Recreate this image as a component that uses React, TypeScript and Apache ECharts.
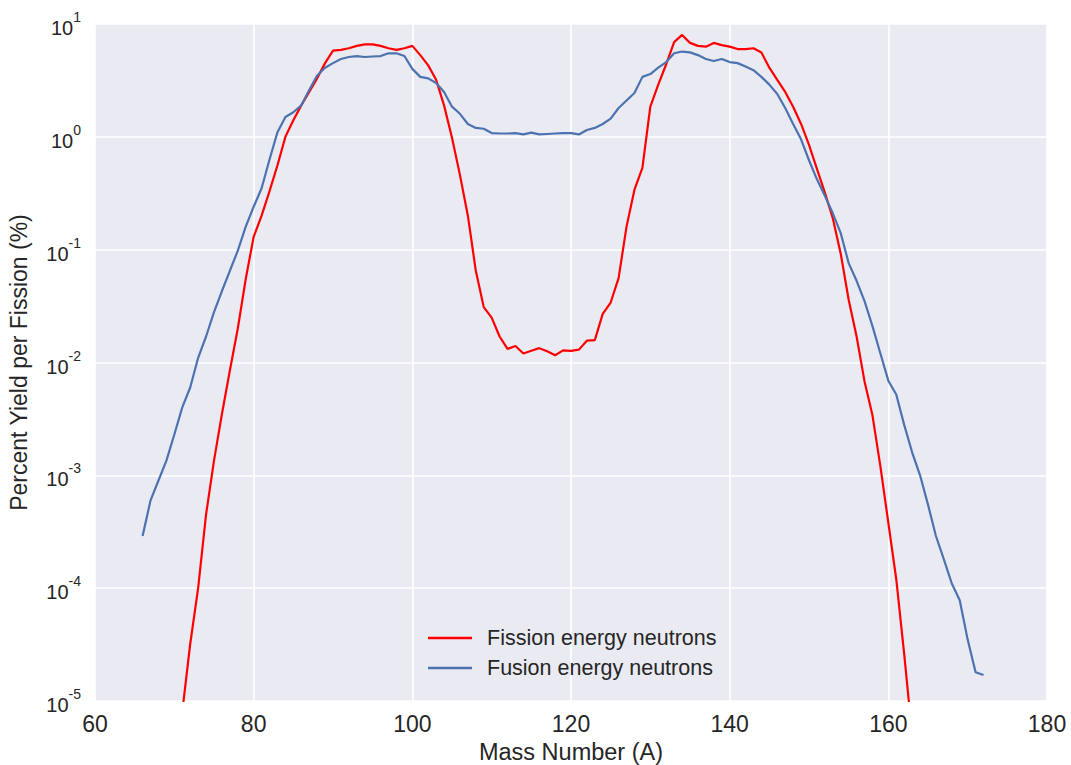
import React, { useEffect, useRef } from "react";
import * as echarts from "echarts";

const fissionMass = [71, 72, 73, 74, 75, 76, 77, 78, 79, 80, 81, 82, 83, 84, 85, 86, 87, 88, 89, 90, 91, 92, 93, 94, 95, 96, 97, 98, 99, 100, 101, 102, 103, 104, 105, 106, 107, 108, 109, 110, 111, 112, 113, 114, 115, 116, 117, 118, 119, 120, 121, 122, 123, 124, 125, 126, 127, 128, 129, 130, 131, 132, 133, 134, 135, 136, 137, 138, 139, 140, 141, 142, 143, 144, 145, 146, 147, 148, 149, 150, 151, 152, 153, 154, 155, 156, 157, 158, 159, 160, 161, 162, 163];
const fissionYield = [8e-6, 3.2e-5, 1.0e-4, 4.5e-4, 1.35e-3, 3.5e-3, 8.5e-3, 0.02, 0.055, 0.13, 0.2, 0.33, 0.56, 1.0, 1.4, 1.9, 2.5, 3.3, 4.5, 5.8, 5.9, 6.1, 6.4, 6.6, 6.6, 6.4, 6.1, 5.9, 6.1, 6.4, 5.3, 4.3, 3.2, 1.9, 0.98, 0.46, 0.2, 0.065, 0.031, 0.025, 0.017, 0.0132, 0.014, 0.012, 0.0127, 0.0134, 0.0126, 0.0116, 0.0128, 0.0127, 0.013, 0.0156, 0.0158, 0.027, 0.034, 0.056, 0.16, 0.34, 0.53, 1.85, 2.9, 4.4, 6.9, 8.0, 6.8, 6.4, 6.3, 6.8, 6.5, 6.3, 6.0, 6.0, 6.1, 5.6, 4.1, 3.2, 2.5, 1.85, 1.3, 0.85, 0.52, 0.32, 0.19, 0.092, 0.036, 0.017, 0.0068, 0.0034, 0.0012, 3.8e-4, 1.2e-4, 2.6e-5, 5e-6];

const fusionMass = [66, 67, 68, 69, 70, 71, 72, 73, 74, 75, 76, 77, 78, 79, 80, 81, 82, 83, 84, 85, 86, 87, 88, 89, 90, 91, 92, 93, 94, 95, 96, 97, 98, 99, 100, 101, 102, 103, 104, 105, 106, 107, 108, 109, 110, 111, 112, 113, 114, 115, 116, 117, 118, 119, 120, 121, 122, 123, 124, 125, 126, 127, 128, 129, 130, 131, 132, 133, 134, 135, 136, 137, 138, 139, 140, 141, 142, 143, 144, 145, 146, 147, 148, 149, 150, 151, 152, 153, 154, 155, 156, 157, 158, 159, 160, 161, 162, 163, 164, 165, 166, 167, 168, 169, 170, 171, 172];
const fusionYield = [2.9e-4, 6e-4, 9e-4, 1.35e-3, 2.3e-3, 4.0e-3, 6e-3, 0.011, 0.017, 0.028, 0.043, 0.065, 0.098, 0.16, 0.24, 0.35, 0.63, 1.1, 1.5, 1.65, 1.9, 2.6, 3.5, 4.1, 4.5, 4.9, 5.1, 5.2, 5.1, 5.15, 5.2, 5.5, 5.5, 5.2, 4.0, 3.4, 3.3, 3.0, 2.5, 1.85, 1.6, 1.3, 1.2, 1.18, 1.08, 1.07, 1.07, 1.08, 1.05, 1.09, 1.05, 1.06, 1.07, 1.08, 1.08, 1.05, 1.15, 1.2, 1.3, 1.45, 1.8, 2.1, 2.45, 3.4, 3.6, 4.1, 4.6, 5.5, 5.7, 5.6, 5.3, 4.9, 4.7, 4.9, 4.6, 4.5, 4.2, 3.9, 3.4, 2.9, 2.4, 1.8, 1.3, 0.95, 0.62, 0.42, 0.3, 0.21, 0.14, 0.076, 0.053, 0.035, 0.021, 0.012, 0.0069, 0.0052, 0.0028, 0.0016, 1.0e-3, 5.5e-4, 2.9e-4, 1.8e-4, 1.1e-4, 7.8e-5, 3.5e-5, 1.8e-5, 1.7e-5];

const seriesNames = ["Fission energy neutrons", "Fusion energy neutrons"];
const seriesColors = ["#ff0000", "#4c72b0"];
const xTitle = "Mass Number (A)";
const yTitle = "Percent Yield per Fission (%)";

const FONT = "'Liberation Sans', Arial, sans-serif";
const TEXT = "#262626";

export default function App() {
  const ref = useRef<HTMLDivElement>(null);
  useEffect(() => {
    if (!ref.current) return;
    const chart = echarts.init(ref.current, undefined, { renderer: "svg" });
    const pair = (xs: number[], ys: number[]) => xs.map((x, i) => [x, ys[i]]);
    chart.setOption({
      animation: false,
      backgroundColor: "#ffffff",
      textStyle: { fontFamily: FONT, color: TEXT },
      grid: {
        left: 95,
        right: 24,
        top: 24,
        bottom: 64,
        show: true,
        backgroundColor: "#eaeaf2",
        borderWidth: 0,
        containLabel: false,
        outerBoundsMode: "none",
      },
      legend: {
        orient: "vertical",
        left: 423,
        top: 622,
        icon: "rect",
        itemWidth: 44,
        itemHeight: 2.5,
        itemGap: 8,
        textStyle: { fontFamily: FONT, fontSize: 21.5, color: TEXT, padding: [0, 0, 0, 10], lineHeight: 22 },
        data: seriesNames,
      },
      xAxis: {
        type: "value",
        min: 60,
        max: 180,
        interval: 20,
        name: xTitle,
        nameLocation: "middle",
        nameGap: 38,
        nameTextStyle: { fontFamily: FONT, fontSize: 23.5, color: TEXT },
        axisLine: { show: false },
        axisTick: { show: false },
        axisLabel: { fontFamily: FONT, fontSize: 23, color: TEXT, margin: 11 },
        splitLine: { show: true, lineStyle: { color: "#ffffff", width: 1.6 } },
      },
      yAxis: {
        type: "log",
        logBase: 10,
        min: 1e-5,
        max: 10,
        name: yTitle,
        nameLocation: "middle",
        nameGap: 65,
        nameTextStyle: { fontFamily: FONT, fontSize: 23, color: TEXT },
        axisLine: { show: false },
        axisTick: { show: false },
        minorTick: { show: false },
        axisLabel: {
          margin: 14,
          formatter: (v: number) => {
            const e = Math.round(Math.log10(v));
            return "{b|10}{s|" + e + "}";
          },
          rich: {
            b: { fontFamily: FONT, fontSize: 20, color: TEXT, verticalAlign: "bottom", lineHeight: 28 },
            s: { fontFamily: FONT, fontSize: 14, color: TEXT, verticalAlign: "top", lineHeight: 28 },
          },
        },
        splitLine: { show: true, lineStyle: { color: "#ffffff", width: 1.6 } },
      },
      series: [
        {
          name: seriesNames[0],
          type: "line",
          data: pair(fissionMass, fissionYield),
          showSymbol: false,
          symbol: "none",
          clip: true,
          color: seriesColors[0],
          lineStyle: { width: 2.2, color: seriesColors[0] },
        },
        {
          name: seriesNames[1],
          type: "line",
          data: pair(fusionMass, fusionYield),
          showSymbol: false,
          symbol: "none",
          clip: true,
          color: seriesColors[1],
          lineStyle: { width: 2.2, color: seriesColors[1] },
        },
      ],
    });
    return () => chart.dispose();
  }, []);
  return <div ref={ref} style={{ position: "fixed", left: 0, top: 0, width: 1071, height: 765 }} />;
}
